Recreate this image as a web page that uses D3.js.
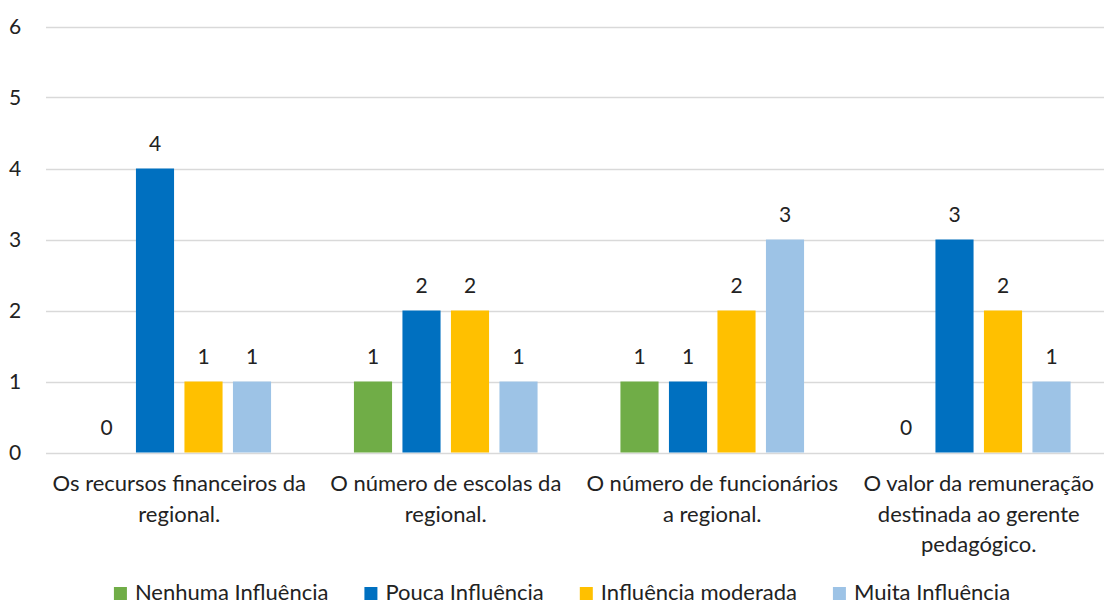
<!DOCTYPE html>
<html>
<head>
<meta charset="utf-8">
<script src="https://cdn.jsdelivr.net/npm/d3@7/dist/d3.min.js"></script>
<style>
  html, body { margin: 0; padding: 0; background: #fff; }
  svg { display: block; font-family: Lato, "Open Sans", sans-serif; }
</style>
</head>
<body>
<div id="chart"></div>
<script>
// chart data
var categories = [
  "Os recursos financeiros da\nregional.",
  "O número de escolas da\nregional.",
  "O número de funcionários\na regional.",
  "O valor da remuneração\ndestinada ao gerente\npedagógico."
];
var seriesNames = ["Nenhuma Influência", "Pouca Influência", "Influência moderada", "Muita Influência"];
var nenhuma = [0, 1, 1, 0];
var pouca = [4, 2, 1, 3];
var moderada = [1, 2, 2, 2];
var muita = [1, 1, 3, 1];
var yTicks = [0, 1, 2, 3, 4, 5, 6];
var colors = ["#70AD47", "#0070C0", "#FFC000", "#9DC3E6"];

var seriesValues = [nenhuma, pouca, moderada, muita];

var width = 1104, height = 606;
var svg = d3.select('#chart').append('svg')
    .attr('width', width)
    .attr('height', height);

var x = d3.scaleBand()
    .domain(categories)
    .range([46, 1112])
    .padding(0);

var y = d3.scaleLinear()
    .domain([0, 6])
    .range([452.5, 26.5]);

var barW = x.bandwidth() * 0.143;
var barStep = x.bandwidth() * 0.182;

// gridlines
svg.append('g')
  .selectAll('line')
  .data(yTicks)
  .enter().append('line')
    .attr('x1', 46)
    .attr('x2', width)
    .attr('y1', function(d) { return Math.round(y(d)) + 0.5; })
    .attr('y2', function(d) { return Math.round(y(d)) + 0.5; })
    .style('stroke', '#D9D9D9')
    .style('stroke-width', 1.5);

// y labels
svg.append('g')
  .selectAll('text')
  .data(yTicks)
  .enter().append('text')
    .attr('x', 15)
    .attr('y', function(d) { return y(d); })
    .attr('dy', '0.35em')
    .attr('text-anchor', 'middle')
    .style('font-size', '21px')
    .style('fill', '#222')
    .text(function(d) { return d; });

// bars
var groups = svg.append('g')
  .selectAll('g')
  .data(seriesValues)
  .enter().append('g')
    .style('fill', function(d, i) { return colors[i]; });

function barX(ci, si) {
  var c = x(categories[ci]) + x.bandwidth() / 2;
  return c + (si - 1.5) * barStep - barW / 2;
}

groups.each(function(vals, si) {
  var g = d3.select(this);
  g.selectAll('rect')
    .data(vals)
    .enter().append('rect')
      .attr('x', function(d, ci) { return barX(ci, si); })
      .attr('y', function(d) { return y(d); })
      .attr('width', barW)
      .attr('height', function(d) { return y(0) - y(d); });

  g.selectAll('text')
    .data(vals)
    .enter().append('text')
      .attr('x', function(d, ci) { return barX(ci, si) + barW / 2; })
      .attr('y', function(d) { return y(d) - 18; })
      .attr('text-anchor', 'middle')
      .style('font-size', '21px')
      .style('fill', '#222')
      .text(function(d) { return d; });
});

// category labels
var catLabels = svg.append('g')
  .selectAll('text')
  .data(categories)
  .enter().append('text')
    .attr('x', function(d) { return x(d) + x.bandwidth() / 2; })
    .attr('y', 491)
    .attr('text-anchor', 'middle')
    .style('font-size', '22px')
    .style('fill', '#222');

catLabels.selectAll('tspan')
  .data(function(d) { return d.split('\n'); })
  .enter().append('tspan')
    .attr('x', function() { return d3.select(this.parentNode).attr('x'); })
    .attr('dy', function(d, i) { return i ? 30.5 : 0; })
    .text(function(d) { return d; });

// legend
var legend = svg.append('g');
var items = legend.selectAll('g')
  .data(seriesNames)
  .enter().append('g');

items.append('rect')
    .attr('width', 13)
    .attr('height', 13)
    .attr('y', 587)
    .style('fill', function(d, i) { return colors[i]; });

items.append('text')
    .attr('x', 21)
    .attr('y', 600)
    .style('font-size', '22px')
    .style('fill', '#222')
    .text(function(d) { return d; });

var gap = 36;
var offs = 0, pos = [];
items.each(function() {
  var w = this.getBBox().width;
  pos.push(offs);
  offs += w + gap;
});
var total = offs - gap;
var start = 562 - total / 2;
items.attr('transform', function(d, i) { return 'translate(' + (start + pos[i]) + ',0)'; });
</script>
</body>
</html>
